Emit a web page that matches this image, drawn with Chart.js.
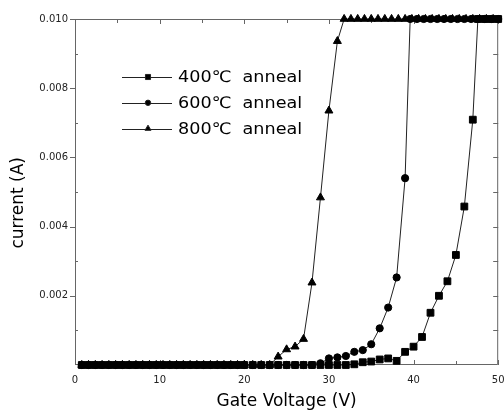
<!DOCTYPE html>
<html>
<head>
<meta charset="utf-8">
<script src="https://cdn.jsdelivr.net/npm/chart.js@4.4.1/dist/chart.umd.min.js"></script>
<style>
  html, body { margin: 0; padding: 0; background: #fff; }
  canvas { display: block; }
</style>
</head>
<body>
<canvas id="chart" width="504" height="414"></canvas>
<script>
// gate voltage (V) and drain current (A)
const v400 = [0.8, 1.6, 2.4, 3.2, 4.0, 4.8, 5.6, 6.4, 7.2, 8.0, 8.8, 9.6, 10.4, 11.2, 12.0, 12.8, 13.6, 14.4,
  15.2, 16.0, 16.8, 17.6, 18.4, 19.2, 20.0, 21, 22, 23, 24, 25, 26, 27, 28, 29, 30, 31, 32,
  33, 34, 35, 36, 37, 38, 39, 40, 41, 42, 43, 44, 45, 46, 47, 47.6, 48.4, 49.2, 50.0];
const i400 = [0, 0, 0, 0, 0, 0, 0, 0, 0, 0, 0, 0, 0, 0, 0, 0, 0, 0,
  0, 0, 0, 0, 0, 0, 0, 0, 0, 0, 0, 0, 0, 0, 0, 0, 0, 0, 0,
  0.00002, 0.00008, 0.0001, 0.00016, 0.00019, 0.00012, 0.00038, 0.00053, 0.00081, 0.00151, 0.0020,
  0.00242, 0.00318, 0.00458, 0.00709, 0.010, 0.010, 0.010, 0.010];

const v600 = [0.8, 1.6, 2.4, 3.2, 4.0, 4.8, 5.6, 6.4, 7.2, 8.0, 8.8, 9.6, 10.4, 11.2, 12.0, 12.8, 13.6, 14.4,
  15.2, 16.0, 16.8, 17.6, 18.4, 19.2, 20.0, 21, 22, 23, 24, 25, 26, 27, 28,
  29, 30, 31, 32, 33, 34, 35, 36, 37, 38, 39,
  39.6, 40.4, 41.2, 42.0, 42.8, 43.6, 44.4, 45.2, 46.0, 46.8, 47.6, 48.4, 49.2, 50.0];
const i600 = [0, 0, 0, 0, 0, 0, 0, 0, 0, 0, 0, 0, 0, 0, 0, 0, 0, 0,
  0, 0, 0, 0, 0, 0, 0, 0, 0, 0, 0, 0, 0, 0, 0,
  0.00005, 0.00019, 0.00022, 0.00026, 0.00038, 0.00043, 0.0006, 0.00106, 0.00166, 0.00253, 0.0054,
  0.010, 0.010, 0.010, 0.010, 0.010, 0.010, 0.010, 0.010, 0.010, 0.010, 0.010, 0.010, 0.010, 0.010];

const v800 = [0.8, 1.6, 2.4, 3.2, 4.0, 4.8, 5.6, 6.4, 7.2, 8.0, 8.8, 9.6, 10.4, 11.2, 12.0, 12.8, 13.6, 14.4,
  15.2, 16.0, 16.8, 17.6, 18.4, 19.2, 20.0, 21, 22, 23,
  24, 25, 26, 27, 28, 29, 30, 31,
  31.8, 32.6, 33.4, 34.2, 35.0, 35.8, 36.6, 37.4, 38.2, 39.0, 39.8, 40.6, 41.4, 42.2, 43.0, 43.8,
  44.6, 45.4, 46.2, 47.0, 47.8, 48.6, 49.4];
const i800 = [0, 0, 0, 0, 0, 0, 0, 0, 0, 0, 0, 0, 0, 0, 0, 0, 0, 0,
  0, 0, 0, 0, 0, 0, 0, 0, 0, 0,
  0.00024, 0.00045, 0.00053, 0.00075, 0.00238, 0.00484, 0.00735, 0.00936,
  0.010, 0.010, 0.010, 0.010, 0.010, 0.010, 0.010, 0.010, 0.010, 0.010, 0.010, 0.010, 0.010, 0.010,
  0.010, 0.010, 0.010, 0.010, 0.010, 0.010, 0.010, 0.010, 0.010];

const seriesLabels = ['400\u2103  anneal', '600\u2103  anneal', '800\u2103  anneal'];
const xMajor = [0, 10, 20, 30, 40, 50];
const xMinor = [5, 15, 25, 35, 45];
const yMajor = [0.002, 0.004, 0.006, 0.008, 0.010];
const yMinor = [0.001, 0.003, 0.005, 0.007, 0.009];

const toPoints = (xs, ys) => xs.map((x, i) => ({ x: x, y: ys[i] }));

const FONT = '"DejaVu Sans", "Liberation Sans", sans-serif';

// frame on all four sides with inward / outward tick marks
const frame = {
  id: 'frame',
  beforeDatasetsDraw(chart) {
    const { ctx, chartArea: a, scales } = chart;
    const xs = scales.x, ys = scales.y;
    ctx.save();
    ctx.strokeStyle = '#666';
    ctx.lineWidth = 1;
    ctx.beginPath();
    ctx.rect(a.left + 0.5, a.top + 0.5, a.right - a.left - 1, a.bottom - a.top - 1);
    xMajor.concat(xMinor).forEach(v => {
      const len = xMajor.includes(v) ? 5 : 4;
      const px = Math.round(xs.getPixelForValue(v)) + 0.5;
      ctx.moveTo(px, a.bottom); ctx.lineTo(px, a.bottom - len);
      ctx.moveTo(px, a.top); ctx.lineTo(px, a.top + len);
    });
    yMajor.forEach(v => {
      const py = Math.round(ys.getPixelForValue(v)) + 0.5;
      ctx.moveTo(a.left, py); ctx.lineTo(a.left - 5, py);
      ctx.moveTo(a.right, py); ctx.lineTo(a.right - 5, py);
    });
    yMinor.forEach(v => {
      const py = Math.round(ys.getPixelForValue(v)) + 0.5;
      ctx.moveTo(a.left, py); ctx.lineTo(a.left + 3, py);
      ctx.moveTo(a.right, py); ctx.lineTo(a.right - 5, py);
    });
    ctx.stroke();
    ctx.restore();
  }
};

// legend drawn inside the plot, upper left
const innerLegend = {
  id: 'innerLegend',
  afterDatasetsDraw(chart) {
    const { ctx, chartArea: a } = chart;
    chart.data.datasets.forEach((ds, i) => {
      const y = a.top + 58 + i * 25.8;
      const x0 = a.left + 47;
      ctx.save();
      ctx.strokeStyle = '#222';
      ctx.fillStyle = '#000';
      ctx.lineWidth = 1;
      ctx.beginPath();
      ctx.moveTo(x0, Math.round(y) + 0.5);
      ctx.lineTo(x0 + 50, Math.round(y) + 0.5);
      ctx.stroke();
      Chart.helpers.drawPoint(ctx, {
        pointStyle: ds.pointStyle, radius: ds.pointRadius * 0.75, rotation: 0, borderWidth: 1
      }, x0 + 26, y);
      ctx.font = '16px ' + FONT;
      ctx.textBaseline = 'middle';
      ctx.textAlign = 'left';
      ctx.translate(a.left + 103, y + 1);
      ctx.scale(1.1, 1);
      ctx.fillText(ds.label, 0, 0);
      ctx.restore();
    });
  }
};

const makeSet = (label, pts, style, r) => ({
  label: label,
  data: pts,
  borderColor: '#222',
  borderWidth: 1,
  backgroundColor: '#000',
  pointBackgroundColor: '#000',
  pointBorderColor: '#000',
  pointBorderWidth: 1,
  pointStyle: style,
  pointRadius: r,
  pointHoverRadius: r,
  tension: 0,
  fill: false,
  clip: false
});

const chart = new Chart(document.getElementById('chart'), {
  type: 'line',
  data: {
    datasets: [
      makeSet(seriesLabels[0], toPoints(v400, i400), 'rect', 4.8),
      makeSet(seriesLabels[1], toPoints(v600, i600), 'circle', 3.6),
      makeSet(seriesLabels[2], toPoints(v800, i800), 'triangle', 4.6)
    ]
  },
  options: {
    responsive: false,
    animation: false,
    events: [],
    layout: { padding: { top: 19, right: 4, left: 0, bottom: 0 } },
    plugins: {
      legend: { display: false },
      tooltip: { enabled: false }
    },
    scales: {
      x: {
        type: 'linear',
        min: 0,
        max: 50,
        grid: { display: false, drawTicks: false },
        border: { display: false },
        ticks: {
          stepSize: 10,
          padding: 9,
          color: '#222',
          font: { family: FONT, size: 10 },
          maxRotation: 0
        },
        title: {
          display: true,
          text: 'Gate Voltage (V)',
          color: '#000',
          font: { family: FONT, size: 17 },
          padding: { top: 0, bottom: 2 }
        },
        afterFit(s) { s.height = 49; s.paddingLeft = 0; s.paddingRight = 0; }
      },
      y: {
        type: 'linear',
        min: 0,
        max: 0.010,
        grid: { display: false, drawTicks: false },
        border: { display: false },
        ticks: {
          stepSize: 0.002,
          padding: 7,
          color: '#222',
          font: { family: FONT, size: 10 },
          callback: v => (v === 0 ? '' : v.toFixed(3))
        },
        title: {
          display: true,
          text: 'current (A)    ',
          color: '#000',
          font: { family: FONT, size: 17 },
          padding: { top: 8, bottom: 0 }
        },
        afterFit(s) { s.width = 75; }
      }
    }
  },
  plugins: [frame, innerLegend]
});
</script>
</body>
</html>
